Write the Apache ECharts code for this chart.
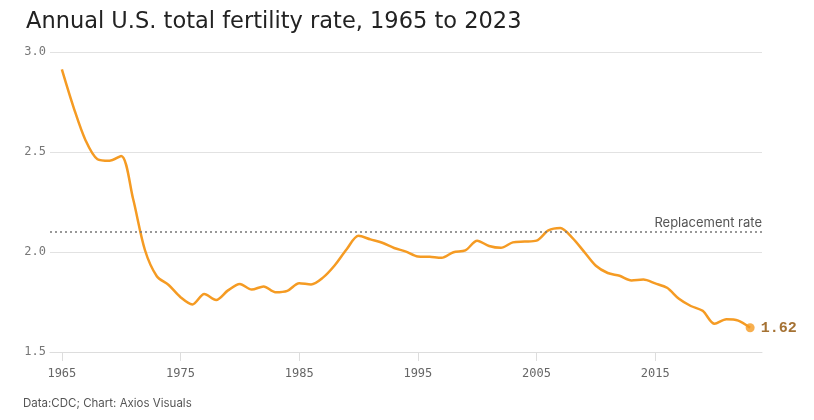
<!DOCTYPE html>
<html>
<head>
<meta charset="utf-8">
<script src="https://cdn.jsdelivr.net/npm/echarts@6/dist/echarts.min.js"></script>
<style>
  html, body { margin: 0; padding: 0; background: #fff; }
  #main { width: 814px; height: 420px; }
</style>
</head>
<body>
<div id="main"></div>
<script>
// 数据
var years = [];
for (var y = 1965; y <= 2023; y++) years.push(y);
var rates = [
  2.913, 2.721, 2.558, 2.464, 2.456, 2.480, 2.266, 2.010, 1.879, 1.835,
  1.774, 1.738, 1.790, 1.760, 1.808, 1.840, 1.812, 1.828, 1.799, 1.806,
  1.844, 1.838, 1.872, 1.934, 2.014, 2.081, 2.063, 2.046, 2.020, 2.002,
  1.978, 1.976, 1.971, 1.999, 2.008, 2.056, 2.030, 2.021, 2.048, 2.052,
  2.057, 2.108, 2.120, 2.072, 2.002, 1.931, 1.895, 1.881, 1.858, 1.862,
  1.843, 1.821, 1.766, 1.730, 1.706, 1.641, 1.664, 1.657, 1.621
];
var xTicks = [1965, 1975, 1985, 1995, 2005, 2015];
var replacementRate = 2.1;

var points = years.map(function (yr, i) { return [yr, rates[i]]; });
var last = points[points.length - 1];

var chart = echarts.init(document.getElementById('main'));

var option = {
  backgroundColor: '#fff',
  animation: false,
  title: {
    text: 'Annual U.S. total fertility rate, 1965 to 2023',
    left: 21,
    top: 6,
    textStyle: {
      fontFamily: 'DejaVu Sans',
      fontSize: 22.5,
      fontWeight: 'normal',
      color: '#222'
    }
  },
  graphic: [{
    type: 'text',
    left: 23,
    top: 398,
    style: {
      text: 'Data:CDC; Chart: Axios Visuals',
      fontFamily: 'Inter',
      fontSize: 11.5,
      fill: '#555'
    }
  }],
  grid: {
    left: 50,
    right: 52,
    top: 52,
    bottom: 68
  },
  xAxis: {
    type: 'value',
    min: 1964,
    max: 2024,
    splitLine: { show: false },
    axisLine: { show: true, lineStyle: { color: '#ddd', width: 1 } },
    axisTick: {
      show: true,
      customValues: xTicks,
      length: 9,
      lineStyle: { color: '#ddd' }
    },
    axisLabel: {
      customValues: xTicks,
      margin: 16,
      fontFamily: 'DejaVu Sans Mono',
      fontSize: 12,
      color: '#666',
      formatter: function (v) { return String(v); }
    }
  },
  yAxis: {
    type: 'value',
    min: 1.5,
    max: 3.0,
    interval: 0.5,
    axisLine: { show: false },
    axisTick: { show: false },
    splitLine: { lineStyle: { color: '#e2e2e2', width: 1 } },
    axisLabel: {
      margin: 4,
      fontFamily: 'DejaVu Sans Mono',
      fontSize: 12,
      color: '#777',
      formatter: function (v) { return v.toFixed(1); }
    }
  },
  series: [{
    type: 'line',
    data: points,
    smooth: 0.3,
    symbol: 'none',
    lineStyle: { color: '#f59b23', width: 2.5 },
    z: 3,
    markLine: {
      silent: true,
      symbol: 'none',
      lineStyle: { color: '#777', type: [2, 3], width: 1.5 },
      label: {
        position: 'insideEndTop',
        formatter: 'Replacement rate',
        fontFamily: 'Inter',
        fontSize: 13,
        color: '#555',
        distance: [0, 2]
      },
      data: [{ yAxis: replacementRate }]
    }
  }, {
    type: 'scatter',
    data: [last],
    symbol: 'circle',
    symbolSize: 9,
    itemStyle: { color: '#f59b23' },
    z: 4,
    label: {
      show: true,
      position: 'right',
      distance: 6,
      formatter: function (p) { return p.value[1].toFixed(2); },
      fontFamily: 'Liberation Mono',
      fontSize: 15,
      fontWeight: 'bold',
      color: '#8f4f00'
    }
  }]
};

chart.setOption(option);
</script>
</body>
</html>
